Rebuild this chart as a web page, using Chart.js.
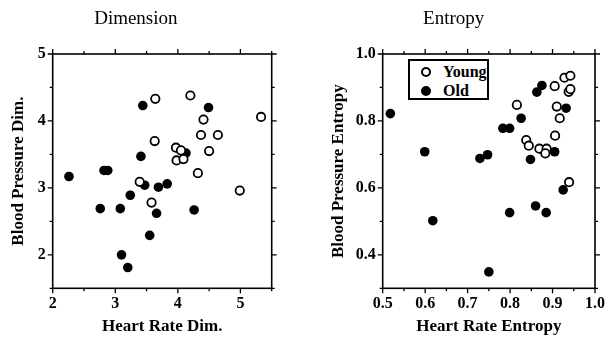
<!DOCTYPE html>
<html>
<head>
<meta charset="utf-8">
<script src="https://cdn.jsdelivr.net/npm/chart.js@4"></script>
<style>
    body { margin: 0; background: #fff; }
    #wrap { position: relative; width: 611px; height: 341px; }
    #c1 { position: absolute; left: 0; top: 0; }
    #c2 { position: absolute; left: 305px; top: 0; }
    #legend {
        position: absolute; left: 408px; top: 59px; width: 77px; height: 37px;
        border: 2px solid #000; background: #fff;
        font: bold 16px "Liberation Serif", serif; color: #000;
    }
    #legend div { position: relative; height: 17px; line-height: 17px; padding-left: 33px; margin-top: 2px; }
    #legend span { position: absolute; left: 11px; top: 4px; width: 6px; height: 6px; border: 2px solid #000; border-radius: 50%; }
</style>
</head>
<body>
<div id="wrap">
    <canvas id="c1" width="305" height="341"></canvas>
    <canvas id="c2" width="306" height="341"></canvas>
    <div id="legend">
        <div><span style="background:#fff"></span>Young</div>
        <div><span style="background:#000"></span>Old</div>
    </div>
</div>
<script>
// Dimension plot
var dimYoungX = [3.64, 4.20, 5.33, 4.41, 4.37, 4.64, 3.63, 3.97, 4.05, 3.98, 4.09, 4.50, 4.32, 3.39, 4.99, 3.58];
var dimYoungY = [4.33, 4.38, 4.06, 4.02, 3.79, 3.79, 3.70, 3.60, 3.56, 3.41, 3.43, 3.55, 3.22, 3.09, 2.96, 2.78];
var dimOldX = [3.44, 4.49, 4.13, 3.41, 2.82, 2.88, 2.26, 3.47, 3.69, 3.83, 3.24, 2.76, 3.08, 4.26, 3.66, 3.55, 3.10, 3.20];
var dimOldY = [4.23, 4.20, 3.52, 3.47, 3.26, 3.26, 3.17, 3.04, 3.01, 3.06, 2.89, 2.69, 2.69, 2.67, 2.62, 2.29, 2.00, 1.81];

// Entropy plot
var entYoungX = [0.816, 0.905, 0.928, 0.942, 0.938, 0.942, 0.910, 0.917, 0.906, 0.838, 0.844, 0.869, 0.886, 0.883, 0.939];
var entYoungY = [0.848, 0.904, 0.929, 0.935, 0.887, 0.895, 0.843, 0.808, 0.756, 0.743, 0.726, 0.717, 0.717, 0.703, 0.617];
var entOldX = [0.518, 0.599, 0.618, 0.729, 0.747, 0.750, 0.783, 0.799, 0.799, 0.826, 0.848, 0.863, 0.875, 0.860, 0.885, 0.905, 0.925, 0.932];
var entOldY = [0.822, 0.708, 0.502, 0.688, 0.699, 0.349, 0.778, 0.778, 0.526, 0.808, 0.685, 0.886, 0.906, 0.546, 0.526, 0.708, 0.594, 0.838];

// tick labels (other ticks are unlabeled minor ticks)
var dimXLabels = ["2", "3", "4", "5"];
var dimYLabels = ["2", "3", "4", "5"];
var entXLabels = ["0.5", "0.6", "0.7", "0.8", "0.9", "1.0"];
var entYLabels = ["0.4", "0.6", "0.8", "1.0"];

var serif = "'Liberation Serif', 'Times New Roman', serif";

function toPoints(xs, ys) {
    var pts = [];
    for (let i in xs) {
        pts.push({ x: xs[i], y: ys[i] });
    }
    return pts;
}

function labelFor(list, digits) {
    var unit = Math.pow(10, digits);
    return function (v) {
        // only exact multiples of the label unit can get a label
        if (Math.abs(v * unit - Math.round(v * unit)) > 1e-6) return "";
        let s = Number(v).toFixed(digits);
        for (let l of list) {
            if (l == s) return s;
        }
        return "";
    };
}

// frame + outward tick marks on all four sides
var framePlugin = {
    id: "frame",
    afterDraw: function (chart) {
        var ctx = chart.ctx;
        var a = chart.chartArea;
        var xs = chart.scales.x;
        var ys = chart.scales.y;
        ctx.save();
        ctx.strokeStyle = "#000";
        ctx.lineWidth = 1.6;
        ctx.strokeRect(a.left, a.top, a.right - a.left, a.bottom - a.top);
        ctx.lineWidth = 1.3;
        ctx.beginPath();
        for (let i = 0; i < xs.ticks.length; i++) {
            let px = xs.getPixelForValue(xs.ticks[i].value);
            let len = xs.ticks[i].label !== "" ? 5 : 3;
            ctx.moveTo(px, a.bottom); ctx.lineTo(px, a.bottom + len);
            ctx.moveTo(px, a.top); ctx.lineTo(px, a.top - len);
        }
        for (let i = 0; i < ys.ticks.length; i++) {
            let py = ys.getPixelForValue(ys.ticks[i].value);
            let len = ys.ticks[i].label !== "" ? 5 : 3;
            ctx.moveTo(a.left, py); ctx.lineTo(a.left - len, py);
            ctx.moveTo(a.right, py); ctx.lineTo(a.right + len, py);
        }
        ctx.stroke();
        ctx.restore();
    }
};

function makeChart(id, opts) {
    var ctx = document.getElementById(id).getContext("2d");
    return new Chart(ctx, {
        type: "scatter",
        data: {
            datasets: [{
                label: "Young",
                data: opts.young,
                pointRadius: 4.2,
                pointBorderWidth: 1.8,
                pointBackgroundColor: "#fff",
                pointBorderColor: "#000"
            }, {
                label: "Old",
                data: opts.old,
                pointRadius: 4.8,
                pointBorderWidth: 0,
                pointBackgroundColor: "#000",
                pointBorderColor: "#000"
            }]
        },
        options: {
            responsive: false,
            animation: false,
            layout: { padding: { left: 0, right: opts.padRight, top: 0, bottom: 0 } },
            plugins: {
                legend: { display: false },
                tooltip: { enabled: false },
                title: {
                    display: true,
                    text: opts.title,
                    color: "#000",
                    font: { family: serif, size: 19, weight: "normal" },
                    padding: { top: 8, bottom: 23.2 }
                }
            },
            scales: {
                x: {
                    type: "linear",
                    min: opts.xMin, max: opts.xMax,
                    afterFit: function (s) { s.height = 52.7; },
                    grid: { display: false, drawTicks: false },
                    border: { display: false },
                    ticks: {
                        stepSize: opts.xStep,
                        autoSkip: false,
                        maxRotation: 0,
                        padding: 6,
                        color: "#000",
                        font: { family: serif, size: 16, weight: "bold" },
                        callback: labelFor(opts.xLabels, opts.digits)
                    },
                    title: {
                        display: true,
                        text: opts.xTitle,
                        color: "#000",
                        font: { family: serif, size: 17, weight: "bold" },
                        padding: { top: 0, bottom: 4 }
                    }
                },
                y: {
                    type: "linear",
                    min: opts.yMin, max: opts.yMax,
                    afterFit: function (s) { s.width = opts.yWidth; },
                    grid: { display: false, drawTicks: false },
                    border: { display: false },
                    ticks: {
                        stepSize: opts.yStep,
                        autoSkip: false,
                        padding: 7,
                        color: "#000",
                        font: { family: serif, size: 16, weight: "bold" },
                        callback: labelFor(opts.yLabels, opts.digits)
                    },
                    title: {
                        display: true,
                        text: opts.yTitle,
                        color: "#000",
                        font: { family: serif, size: 17, weight: "bold" },
                        padding: { top: opts.yTitlePad, bottom: 0 }
                    }
                }
            }
        },
        plugins: [framePlugin]
    });
}

window.onload = function () {

    makeChart("c1", {
        title: "Dimension",
        young: toPoints(dimYoungX, dimYoungY),
        old: toPoints(dimOldX, dimOldY),
        xMin: 2, xMax: 5.5, xStep: 0.5,
        yMin: 1.5, yMax: 5, yStep: 0.5,
        xLabels: dimXLabels, yLabels: dimYLabels, digits: 0,
        xTitle: "Heart Rate Dim.",
        yTitle: "Blood Pressure Dim.",
        yWidth: 52.7, yTitlePad: 8, padRight: 33.3
    });

    makeChart("c2", {
        title: "Entropy",
        young: toPoints(entYoungX, entYoungY),
        old: toPoints(entOldX, entOldY),
        xMin: 0.5, xMax: 1.0, xStep: 0.05,
        yMin: 0.3, yMax: 1.0, yStep: 0.1,
        xLabels: entXLabels, yLabels: entYLabels, digits: 1,
        xTitle: "Heart Rate Entropy",
        yTitle: "Blood Pressure Entropy",
        yWidth: 77.7, yTitlePad: 23, padRight: 8.7
    });

}
</script>
</body>
</html>
